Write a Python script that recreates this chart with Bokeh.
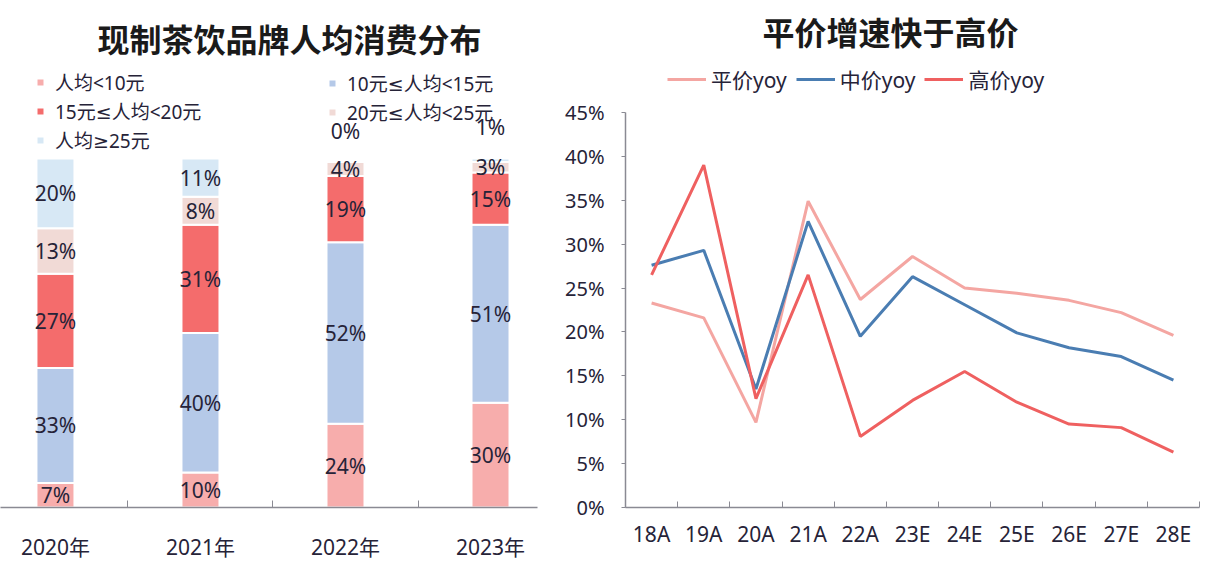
from bokeh.plotting import figure
from bokeh.models import (Range1d, FixedTicker, Legend, LegendItem, ColumnDataSource, Title,
                          SingleIntervalTicker, PrintfTickFormatter, CustomJSTickFormatter)
from bokeh.layouts import row
from bokeh.embed import file_html
from bokeh.resources import INLINE
from bokeh.core.properties import value

FONT = "Noto Sans CJK SC"
MFONT = "Noto Sans, DejaVu Sans, Noto Sans CJK SC"
TXT = "#262338"
AXC = "#8a8a93"

# ---------------- data: left chart ----------------
years = ["2020年", "2021年", "2022年", "2023年"]
seg_names = ["人均<10元", "10元≤人均<15元", "15元≤人均<20元", "20元≤人均<25元", "人均≥25元"]
share_lt10 = [7, 10, 24, 30]
share_10_15 = [33, 40, 52, 51]
share_15_20 = [27, 31, 19, 15]
share_20_25 = [13, 8, 4, 3]
share_ge25 = [20, 11, 0, 1]
seg_colors = ["#F7ADAC", "#B5C9E8", "#F46C6C", "#F1DAD6", "#D7E8F5"]

# ---------------- data: right chart ----------------
periods = ["18A", "19A", "20A", "21A", "22A", "23E", "24E", "25E", "26E", "27E", "28E"]
series_names = ["平价yoy", "中价yoy", "高价yoy"]
yoy_low = [23.3, 21.6, 9.7, 34.9, 23.7, 28.6, 25.0, 24.4, 23.6, 22.2, 19.6]
yoy_mid = [27.6, 29.3, 13.5, 32.6, 19.5, 26.3, 23.1, 19.9, 18.2, 17.2, 14.5]
yoy_high = [26.5, 39.0, 12.4, 26.5, 8.1, 12.2, 15.5, 12.0, 9.5, 9.1, 6.3]
line_colors = ["#F4A6A2", "#4A7DB2", "#EF6060"]

def label_formatter(labels):
    return CustomJSTickFormatter(args=dict(labels=labels),
                                 code="const i = Math.round(tick); return (i >= 0 && i < labels.length) ? labels[i] : '';")

H = 568
TOP = 62
BOTTOM = 61

# ================= left: stacked bars =================
stack_keys = ["s0", "s1", "s2", "s3", "s4"]
series = [share_lt10, share_10_15, share_15_20, share_20_25, share_ge25]
xs = list(range(len(years)))
src = ColumnDataSource(dict(x=xs, **{k: v for k, v in zip(stack_keys, series)}))

p1 = figure(width=560, height=H, x_range=Range1d(-0.379, 3.324), y_range=Range1d(0, 127.5),
            output_backend="svg", toolbar_location=None,
            min_border_left=0, min_border_right=23, min_border_top=TOP, min_border_bottom=BOTTOM)
p1.title.text = "现制茶饮品牌人均消费分布"
p1.title.text_font = FONT
p1.title.text_font_size = "32px"
p1.title.text_font_style = "bold"
p1.title.text_color = "#1a1a1a"
p1.title.align = "left"
p1.title.offset = 97
p1.title.standoff = 4

rs = p1.vbar_stack(stack_keys, x="x", width=0.262, color=seg_colors, line_color="white",
                   line_width=2, source=src)

# labels
lx, ly, lt = [], [], []
ax_, ay_, at_ = [], [], []
for i in xs:
    cum = 0
    for s in series:
        v = s[i]
        if v < 2:
            ax_.append(i); ay_.append(sum(t[i] for t in series)); at_.append(f"{v}%")
        else:
            lx.append(i); ly.append(cum + v / 2); lt.append(f"{v}%")
        cum += v
p1.text(x="x", y="y", text="t", source=ColumnDataSource(dict(x=lx, y=ly, t=lt)),
        text_font=value(MFONT), text_font_size="21px", text_align="center",
        text_baseline="middle", text_color=TXT)
p1.text(x="x", y="y", text="t", source=ColumnDataSource(dict(x=ax_, y=ay_, t=at_)),
        text_font=value(MFONT), text_font_size="21px", text_align="center",
        text_baseline="middle", text_color=TXT, y_offset=-31)

p1.yaxis.visible = False
p1.grid.visible = False
p1.outline_line_color = None
xa = p1.xaxis[0]
xa.ticker = FixedTicker(ticks=xs, minor_ticks=[0.5, 1.5, 2.5])
xa.formatter = label_formatter(years)
xa.major_tick_in = 0
xa.major_tick_out = 0
xa.minor_tick_in = 7
xa.minor_tick_out = 0
xa.axis_line_color = AXC
xa.minor_tick_line_color = AXC
xa.axis_line_width = 1.5
xa.major_label_text_font = MFONT
xa.major_label_text_font_size = "21px"
xa.major_label_text_color = TXT
xa.major_label_standoff = 25

def mk_legend(idx, loc):
    lg = Legend(items=[LegendItem(label=seg_names[j], renderers=[rs[j]]) for j in idx],
                location=loc, orientation="vertical")
    lg.glyph_width = 10
    lg.glyph_height = 10
    lg.label_height = 20
    lg.label_standoff = 10
    lg.spacing = 1
    lg.padding = 0
    lg.margin = 0
    lg.border_line_alpha = 0
    lg.background_fill_alpha = 0
    lg.label_text_font = MFONT
    lg.label_text_font_size = "19px"
    lg.label_text_color = TXT
    return lg

p1.add_layout(mk_legend([0, 2, 4], (35, 353)))
p1.add_layout(mk_legend([1, 3], (327, 381)))

# ================= right: lines =================
px = list(range(len(periods)))
p2 = figure(width=646, height=H, x_range=Range1d(-0.5, len(periods) - 0.5), y_range=Range1d(0, 50.7),
            output_backend="svg", toolbar_location=None,
            min_border_left=65, min_border_right=7, min_border_top=TOP, min_border_bottom=BOTTOM)
p2.title.text = "平价增速快于高价"
p2.title.text_font = FONT
p2.title.text_font_size = "32px"
p2.title.text_font_style = "bold"
p2.title.text_color = "#1a1a1a"
p2.title.align = "left"
p2.title.offset = 137
p2.title.standoff = 0
# small empty spacer between the frame and the title
p2.add_layout(Title(text=" ", text_font=FONT, text_font_size="5px", standoff=0), "above")

lrs = []
for ys, c in zip([yoy_low, yoy_mid, yoy_high], line_colors):
    lrs.append(p2.line(px, ys, line_width=3, line_color=c))

lg2 = Legend(items=[LegendItem(label=n, renderers=[r]) for n, r in zip(series_names, lrs)],
             orientation="horizontal", location=(42, 413))
lg2.glyph_width = 39
lg2.glyph_height = 20
lg2.label_standoff = 5
lg2.spacing = 9
lg2.padding = 0
lg2.margin = 0
lg2.border_line_alpha = 0
lg2.background_fill_alpha = 0
lg2.label_text_font = MFONT
lg2.label_text_font_size = "21px"
lg2.label_text_color = TXT
p2.add_layout(lg2)

p2.grid.visible = False
p2.outline_line_color = None
xa2 = p2.xaxis[0]
xa2.ticker = FixedTicker(ticks=px, minor_ticks=[i - 0.5 for i in range(len(periods) + 1)])
xa2.formatter = label_formatter(periods)
xa2.major_tick_in = 0
xa2.major_tick_out = 0
xa2.minor_tick_in = 6
xa2.minor_tick_out = 0
xa2.axis_line_color = AXC
xa2.minor_tick_line_color = AXC
xa2.axis_line_width = 1.5
xa2.major_label_text_font = MFONT
xa2.major_label_text_font_size = "21px"
xa2.major_label_text_color = TXT
xa2.major_label_standoff = 12

ya2 = p2.yaxis[0]
ya2.ticker = SingleIntervalTicker(interval=5, num_minor_ticks=0)
ya2.formatter = PrintfTickFormatter(format="%d%%")
ya2.bounds = (0, 45)
ya2.major_tick_in = 0
ya2.major_tick_out = 4
ya2.minor_tick_out = 0
ya2.axis_line_color = AXC
ya2.major_tick_line_color = AXC
ya2.axis_line_width = 1.5
ya2.major_label_text_font = MFONT
ya2.major_label_text_font_size = "20px"
ya2.major_label_text_color = TXT
ya2.major_label_standoff = 17

layout = row(p1, p2)
open("out.html", "w").write(file_html(layout, INLINE))
